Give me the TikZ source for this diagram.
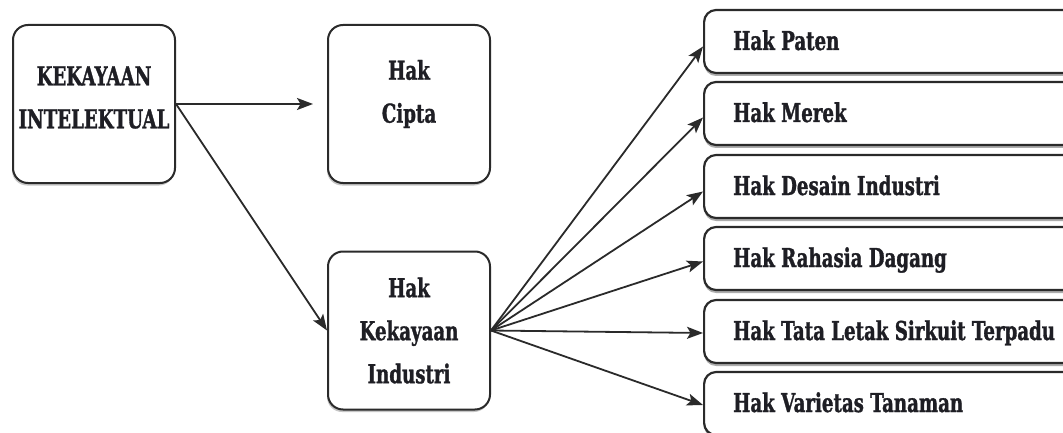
\documentclass[tikz,border=0pt]{standalone}
\usepackage{fontspec}
\newfontfamily\labfont{DejaVu Serif}[FakeStretch=0.70,FakeBold=1.2]
\usetikzlibrary{arrows.meta,shadows}
\definecolor{linec}{HTML}{2A2A2A}
\definecolor{textc}{HTML}{1E1E24}
\begin{document}
\begin{tikzpicture}[x=1pt,y=-1pt,
  bigbox/.style={draw=linec, line width=2pt, rounded corners=15pt,
    minimum width=162pt, minimum height=158pt, inner sep=0pt, fill=white,
    drop shadow={shadow xshift=-1pt, shadow yshift=-2.5pt, fill=gray!45, opacity=1}},
  listbox/.style={draw=linec, line width=2.2pt, rounded corners=12pt,
    minimum width=420pt, minimum height=63pt, inner sep=0pt, anchor=west, fill=white,
    drop shadow={shadow xshift=0pt, shadow yshift=-3pt, fill=gray!65, opacity=1}},
  lbl/.style={font=\labfont\bfseries\fontsize{26}{43}\selectfont, text=textc,
    align=center, inner sep=0pt},
  listlbl/.style={font=\labfont\bfseries\fontsize{26}{43}\selectfont, text=textc,
    anchor=base west, inner sep=0pt},
  arr/.style={draw=linec, line width=1.8pt, -{Stealth[length=16pt,width=12pt,inset=3.5pt]}}]
\useasboundingbox (0,0) rectangle (1063,433);
\fill[white] (0,0) rectangle (1063,433);
\clip (0,0) rectangle (1063,433);

% left boxes
\node[bigbox] (ki) at (94,104) {};
\node[bigbox] (hc) at (409,104) {};
\node[bigbox] (hki) at (409,330.5) {};
\node[lbl] (kit) at ([yshift=6.5pt]ki.center) {KEKAYAAN\\INTELEKTUAL};
\node[lbl] (hct) at ([yshift=10pt]hc.center) {Hak\\Cipta};
\node[lbl] (hkit) at (hki.center) {Hak\\Kekayaan\\Industri};

% right boxes
\node[listbox] (p1) at (703,41.5) {};
\node[listbox] (p2) at (703,113.5) {};
\node[listbox] (p3) at (703,186.5) {};
\node[listbox] (p4) at (703,258.5) {};
\node[listbox] (p5) at (703,331.5) {};
\node[listbox] (p6) at (703,403.5) {};
\node[listlbl] (t1) at ([xshift=30pt,yshift=-8.5pt]p1.west) {Hak Paten};
\node[listlbl] (t2) at ([xshift=30pt,yshift=-8.5pt]p2.west) {Hak Merek};
\node[listlbl] (t3) at ([xshift=30pt,yshift=-8.5pt]p3.west) {Hak Desain Industri};
\node[listlbl] (t4) at ([xshift=30pt,yshift=-8.5pt]p4.west) {Hak Rahasia Dagang};
\node[listlbl] (t5) at ([xshift=30pt,yshift=-8.5pt]p5.west) {Hak Tata Letak Sirkuit Terpadu};
\node[listlbl] (t6) at ([xshift=30pt,yshift=-8.5pt]p6.west) {Hak Varietas Tanaman};

% connectors
\draw[arr] (ki.east) -- ([xshift=-14pt]hc.west);
\draw[arr] (ki.east) -- (hki.west);
\draw[arr] (hki.east) -- ([yshift=-5pt]p1.west);
\draw[arr] (hki.east) -- ([yshift=-4pt]p2.west);
\draw[arr] (hki.east) -- ([yshift=-5pt]p3.west);
\draw[arr] (hki.east) -- ([yshift=-3pt]p4.west);
\draw[arr] (hki.east) -- ([yshift=-1.5pt]p5.west);
\draw[arr] (hki.east) -- ([yshift=-1.5pt]p6.west);
\end{tikzpicture}
\end{document}
